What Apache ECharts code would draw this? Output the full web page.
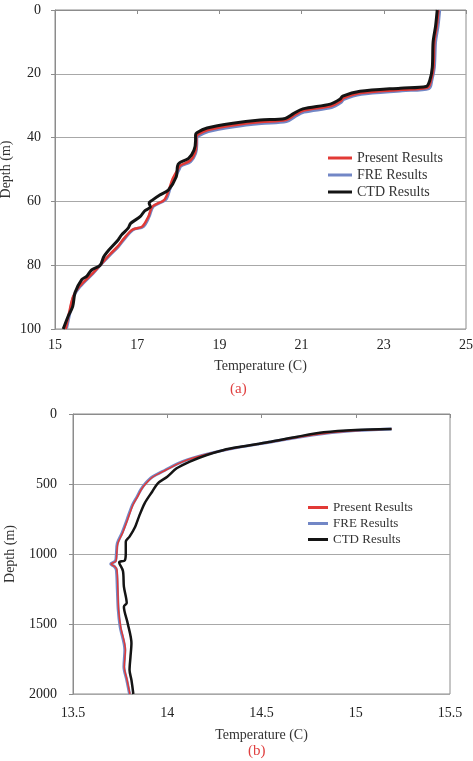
<!DOCTYPE html>
<html>
<head>
<meta charset="utf-8">
<script src="https://cdn.jsdelivr.net/npm/echarts@6/dist/echarts.min.js"></script>
<style>
html, body { margin: 0; padding: 0; background: #fff; }
#app { width: 473px; height: 761px; }
</style>
</head>
<body>
<div id="app"></div>
<script>
// (a) shallow profile, depth in m, temperature in C
var ctdDepthA = [0, 5, 10, 18, 22, 24, 24.5, 25.5, 27, 28, 29.5, 31, 32.5, 34, 34.5, 35.5, 37, 38.5, 39.2, 41, 44, 46.5, 48, 49, 52.3, 56.4, 58, 59.6, 60.5, 61.7, 63, 64.8, 66.9, 68.4, 70.5, 72, 76, 77.5, 80, 81.5, 83.5, 84.5, 88.5, 93, 96, 100];
var ctdTempA = [24.30, 24.26, 24.20, 24.18, 24.12, 24.03, 23.40, 22.42, 22.00, 21.93, 21.70, 21.03, 20.80, 20.60, 19.99, 19.33, 18.70, 18.45, 18.42, 18.42, 18.38, 18.25, 18.02, 17.98, 17.95, 17.76, 17.55, 17.37, 17.29, 17.32, 17.18, 17.07, 16.84, 16.78, 16.62, 16.54, 16.26, 16.18, 16.10, 15.89, 15.77, 15.65, 15.49, 15.43, 15.32, 15.20];

var presDepthA = [0, 5, 10, 18, 22, 24.3, 25, 26, 27.6, 28.6, 30.1, 31.5, 33, 34.5, 35.1, 36.1, 37.6, 39.1, 39.8, 41.5, 44.7, 47.2, 48.7, 49.7, 53, 56, 59.5, 61.6, 64.8, 67.9, 68.9, 71.6, 74.2, 76.8, 80, 82.5, 86.7, 89.9, 95.1, 100];
var presTempA = [24.33, 24.29, 24.23, 24.21, 24.15, 24.07, 23.43, 22.44, 22.02, 21.95, 21.72, 21.05, 20.82, 20.62, 20.01, 19.35, 18.72, 18.47, 18.44, 18.44, 18.41, 18.29, 18.05, 18.00, 17.86, 17.78, 17.66, 17.37, 17.27, 17.12, 16.88, 16.68, 16.52, 16.32, 16.10, 15.92, 15.59, 15.44, 15.34, 15.26];

var freDepthA = [0, 5, 10, 18, 22, 24.6, 25.3, 26.4, 28, 29, 30.6, 32, 33.5, 35, 35.6, 36.6, 38.1, 39.6, 40.3, 42, 45, 47.5, 49, 50, 53.3, 56, 59.5, 61.6, 64.8, 67.9, 68.9, 71.6, 74.2, 76.8, 80, 82.5, 86.7, 89.9, 95.1, 99.8];
var freTempA = [24.36, 24.32, 24.26, 24.23, 24.17, 24.10, 23.45, 22.45, 22.03, 21.96, 21.73, 21.06, 20.83, 20.63, 20.02, 19.36, 18.73, 18.48, 18.45, 18.45, 18.42, 18.30, 18.06, 18.02, 17.88, 17.80, 17.69, 17.39, 17.29, 17.15, 16.90, 16.70, 16.54, 16.34, 16.10, 15.93, 15.61, 15.45, 15.36, 15.28];

// (b) deep profile
var ctdDepthB = [107, 114, 131, 162, 198, 214, 238, 257, 293, 340, 388, 448, 495, 555, 638, 733, 805, 876, 912, 993, 1045, 1060, 1121, 1233, 1350, 1376, 1494, 1637, 1733, 1829, 1900, 2000];
var ctdTempB = [15.19, 15.00, 14.83, 14.69, 14.55, 14.48, 14.37, 14.30, 14.21, 14.12, 14.05, 14.00, 13.95, 13.92, 13.88, 13.85, 13.83, 13.80, 13.78, 13.78, 13.775, 13.745, 13.765, 13.77, 13.785, 13.77, 13.79, 13.81, 13.805, 13.80, 13.81, 13.82];

var freDepthB = [107, 120, 150, 200, 240, 290, 340, 400, 450, 495, 540, 590, 650, 757, 850, 924, 1000, 1050, 1071, 1090, 1114, 1250, 1400, 1520, 1686, 1805, 1900, 2000];
var freTempB = [15.19, 14.98, 14.77, 14.55, 14.37, 14.20, 14.08, 13.99, 13.92, 13.885, 13.86, 13.84, 13.815, 13.786, 13.76, 13.735, 13.73, 13.725, 13.70, 13.72, 13.73, 13.735, 13.74, 13.75, 13.775, 13.77, 13.785, 13.80];
var presTempB = [15.19, 14.985, 14.772, 14.552, 14.372, 14.203, 14.083, 13.993, 13.923, 13.888, 13.862, 13.843, 13.818, 13.789, 13.763, 13.738, 13.732, 13.728, 13.702, 13.722, 13.733, 13.738, 13.742, 13.753, 13.778, 13.772, 13.787, 13.802];

var xTicksA = [15, 25, 2];
var yTicksA = [0, 100, 20];
var xTicksB = [13.5, 15.5, 0.5];
var yTicksB = [0, 2000, 500];

var names = ['Present Results', 'FRE Results', 'CTD Results'];
var RED = '#e23a36', BLUE = '#7287c6', BLACK = '#141414';
var SERIF = '"Liberation Serif", "DejaVu Serif", serif';

function pairs(t, d) {
    return t.map(function (v, i) { return [v, d[i]]; });
}

function plain(v) { return String(v); }

function xAxis(idx, r, size, margin, gap) {
    return {
        type: 'value', gridIndex: idx, min: r[0], max: r[1], interval: r[2],
        name: 'Temperature (C)', nameLocation: 'middle', nameGap: gap, nameMoveOverlap: false,
        nameTextStyle: { fontFamily: SERIF, fontSize: size, color: '#333' },
        axisLine: { lineStyle: { color: '#8c8c8c' } },
        axisTick: { show: true, length: 4, lineStyle: { color: '#8c8c8c' } },
        axisLabel: { fontFamily: SERIF, fontSize: size, color: '#222', margin: margin, formatter: plain },
        splitLine: { show: false }
    };
}

function yAxis(idx, r, size, margin, gap) {
    return {
        type: 'value', gridIndex: idx, min: r[0], max: r[1], interval: r[2], inverse: true,
        name: 'Depth (m)', nameLocation: 'middle', nameGap: gap, nameRotate: 90, nameMoveOverlap: false,
        nameTextStyle: { fontFamily: SERIF, fontSize: size, color: '#333' },
        axisLine: { show: true, lineStyle: { color: '#8c8c8c' } },
        axisTick: { show: true, length: 4, lineStyle: { color: '#8c8c8c' } },
        axisLabel: { fontFamily: SERIF, fontSize: size, color: '#222', margin: margin, formatter: plain },
        splitLine: { show: true, lineStyle: { color: '#a8a8a8', width: 1.2 } }
    };
}

function line(name, idx, data, color, width, z) {
    return {
        name: name, type: 'line', xAxisIndex: idx, yAxisIndex: idx,
        data: data, showSymbol: false, symbol: 'none', smooth: 0.3, z: z,
        color: color, lineStyle: { color: color, width: width }, itemStyle: { color: color },
        animation: false
    };
}

var chart = echarts.init(document.getElementById('app'));
chart.setOption({
    animation: false,
    grid: [
        { left: 55, top: 10, width: 411, height: 319, show: true, borderColor: '#8c8c8c', borderWidth: 1, outerBoundsMode: 'none' },
        { left: 73, top: 414, width: 377, height: 280, show: true, borderColor: '#8c8c8c', borderWidth: 1, outerBoundsMode: 'none' }
    ],
    xAxis: [xAxis(0, xTicksA, 14, 9, 30), xAxis(1, xTicksB, 14, 12, 34)],
    yAxis: [yAxis(0, yTicksA, 14, 14, 42), yAxis(1, yTicksB, 14, 16, 56)],
    legend: [
        {
            data: names, orient: 'vertical', left: 323, top: 146, icon: 'rect',
            itemWidth: 24, itemHeight: 3, itemGap: 3, selectedMode: false,
            textStyle: { fontFamily: SERIF, fontSize: 14, color: '#333' }
        },
        {
            data: names, orient: 'vertical', left: 303, top: 496, icon: 'rect',
            itemWidth: 20, itemHeight: 3, itemGap: 3, selectedMode: false,
            textStyle: { fontFamily: SERIF, fontSize: 13, color: '#333' }
        }
    ],
    graphic: [
        { type: 'text', left: 230, top: 382, style: { text: '(a)', fill: '#e04040', font: '15px ' + SERIF } },
        { type: 'text', left: 248, top: 744, style: { text: '(b)', fill: '#e04040', font: '15px ' + SERIF } }
    ],
    series: [
        line(names[0], 0, pairs(presTempA, presDepthA), RED, 2.5, 3),
        line(names[1], 0, pairs(freTempA, freDepthA), BLUE, 3, 2),
        line(names[2], 0, pairs(ctdTempA, ctdDepthA), BLACK, 3, 4),
        line(names[0], 1, pairs(presTempB, freDepthB), RED, 1.5, 3),
        line(names[1], 1, pairs(freTempB, freDepthB), BLUE, 3, 2),
        line(names[2], 1, pairs(ctdTempB, ctdDepthB), BLACK, 2.5, 4)
    ]
});
</script>
</body>
</html>
